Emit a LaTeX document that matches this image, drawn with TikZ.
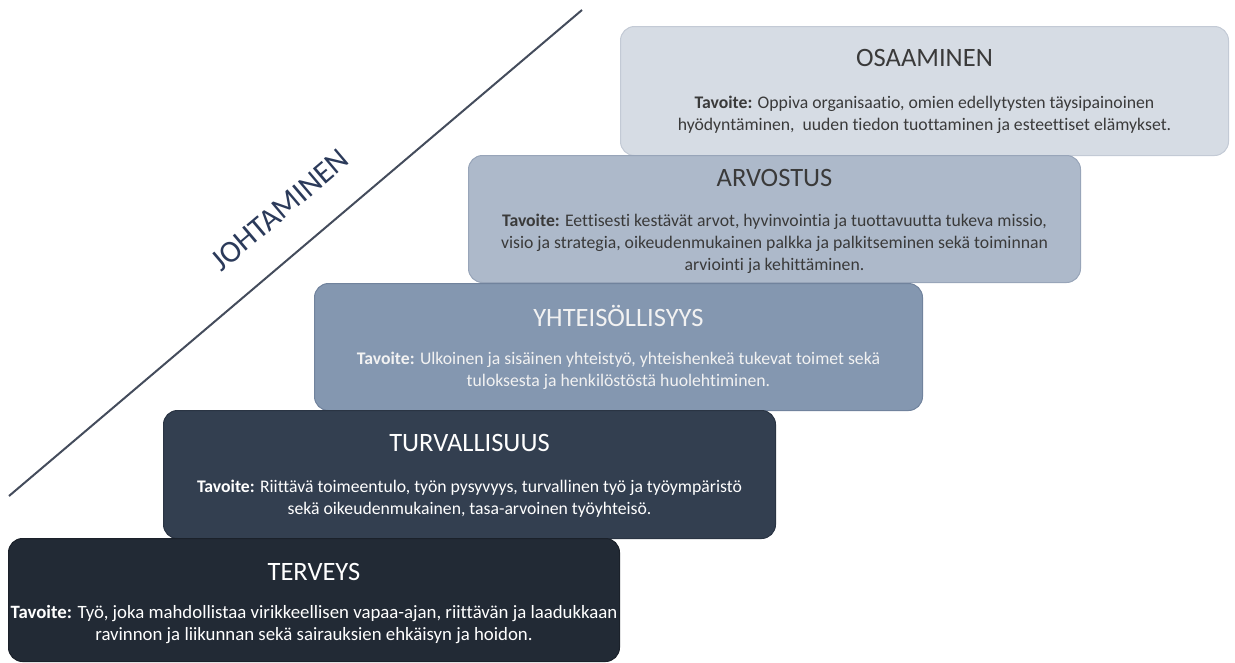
\documentclass[tikz,border=0pt]{standalone}
\usepackage{fontspec}
\setmainfont{Carlito}[Ligatures={NoCommon}]
\definecolor{cA}{HTML}{D6DCE4}
\definecolor{cAd}{HTML}{C3CAD5}
\definecolor{cB}{HTML}{ADB9CA}
\definecolor{cBd}{HTML}{98A5B9}
\definecolor{cC}{HTML}{8497B0}
\definecolor{cCd}{HTML}{71839D}
\definecolor{cD}{HTML}{333F50}
\definecolor{cDd}{HTML}{2A3443}
\definecolor{cE}{HTML}{222A35}
\definecolor{cEd}{HTML}{1B212A}
\definecolor{txtdark}{HTML}{3A3A3A}
\definecolor{txtlight}{HTML}{F2F2F2}
\definecolor{leadline}{HTML}{444C5C}
\definecolor{leadtext}{HTML}{2B3A5A}
\begin{document}
\begin{tikzpicture}[x=1pt,y=-1pt,
  stepbox/.style={rounded corners=14pt, inner sep=0pt, anchor=north west, line width=1pt},
  titletext/.style={inner sep=0pt, font=\fontsize{26.5}{30}\selectfont},
  bodytext/.style={inner sep=0pt, align=center, font=\fontsize{17.7}{22}\selectfont},
  bigbody/.style={bodytext, font=\fontsize{18.8}{22}\selectfont},
  leadstyle/.style={draw=leadline, line width=2pt},
]
\useasboundingbox (0,0) rectangle (1235,662);
% boxes
\node[stepbox, fill=cA, draw=cAd, minimum width=608pt, minimum height=129pt] (osa) at (620,26) {};
\node[titletext, text=txtdark] (osaT) at ([yshift=-32pt]osa.north) {OSAAMINEN};
\node[bodytext, text=txtdark] (osaB) at ([yshift=-89pt]osa.north) {\textbf{Tavoite:} Oppiva organisaatio, omien edellytysten täysipainoinen\\hyödyntäminen,\ \ uuden tiedon tuottaminen ja esteettiset elämykset.};

\node[stepbox, fill=cB, draw=cBd, minimum width=612pt, minimum height=127pt] (arv) at (468,155) {};
\node[titletext, text=txtdark] (arvT) at ([yshift=-23pt]arv.north) {ARVOSTUS};
\node[bodytext, text=txtdark] (arvB) at ([yshift=-89pt]arv.north) {\textbf{Tavoite:} Eettisesti kestävät arvot, hyvinvointia ja tuottavuutta tukeva missio,\\visio ja strategia, oikeudenmukainen palkka ja palkitseminen sekä toiminnan\\arviointi ja kehittäminen.};

\node[stepbox, fill=cC, draw=cCd, minimum width=608pt, minimum height=127pt] (yht) at (314,283) {};
\node[titletext, text=txtlight] (yhtT) at ([yshift=-33pt]yht.north) {YHTEISÖLLISYYS};
\node[bodytext, text=txtlight] (yhtB) at ([yshift=-88pt]yht.north) {\textbf{Tavoite:} Ulkoinen ja sisäinen yhteistyö, yhteishenkeä tukevat toimet sekä\\tuloksesta ja henkilöstöstä huolehtiminen.};

\node[stepbox, fill=cD, draw=cDd, minimum width=612pt, minimum height=128pt] (tur) at (163,410) {};
\node[titletext, text=white] (turT) at ([yshift=-33pt]tur.north) {TURVALLISUUS};
\node[bodytext, text=white] (turB) at ([yshift=-89pt]tur.north) {\textbf{Tavoite:} Riittävä toimeentulo, työn pysyvyys, turvallinen työ ja työympäristö\\sekä oikeudenmukainen, tasa-arvoinen työyhteisö.};

\node[stepbox, fill=cE, draw=cEd, minimum width=611pt, minimum height=123pt] (ter) at (8,538) {};
\node[titletext, text=white] (terT) at ([yshift=-34pt]ter.north) {TERVEYS};
\node[bigbody, text=white] (terB) at ([yshift=-87pt]ter.north) {\textbf{Tavoite:} Työ, joka mahdollistaa virikkeellisen vapaa-ajan, riittävän ja laadukkaan\\ravinnon ja liikunnan sekä sairauksien ehkäisyn ja hoidon.};

% leadership line
\coordinate (lineA) at (9,496);
\coordinate (lineB) at (582,10);
\draw[leadstyle] (lineA) -- (lineB);
\node[inner sep=0pt, rotate=40.3, text=leadtext, font=\fontsize{31}{36}\selectfont] (johto) at (280,210) {JOHTAMINEN};
\end{tikzpicture}
\end{document}
